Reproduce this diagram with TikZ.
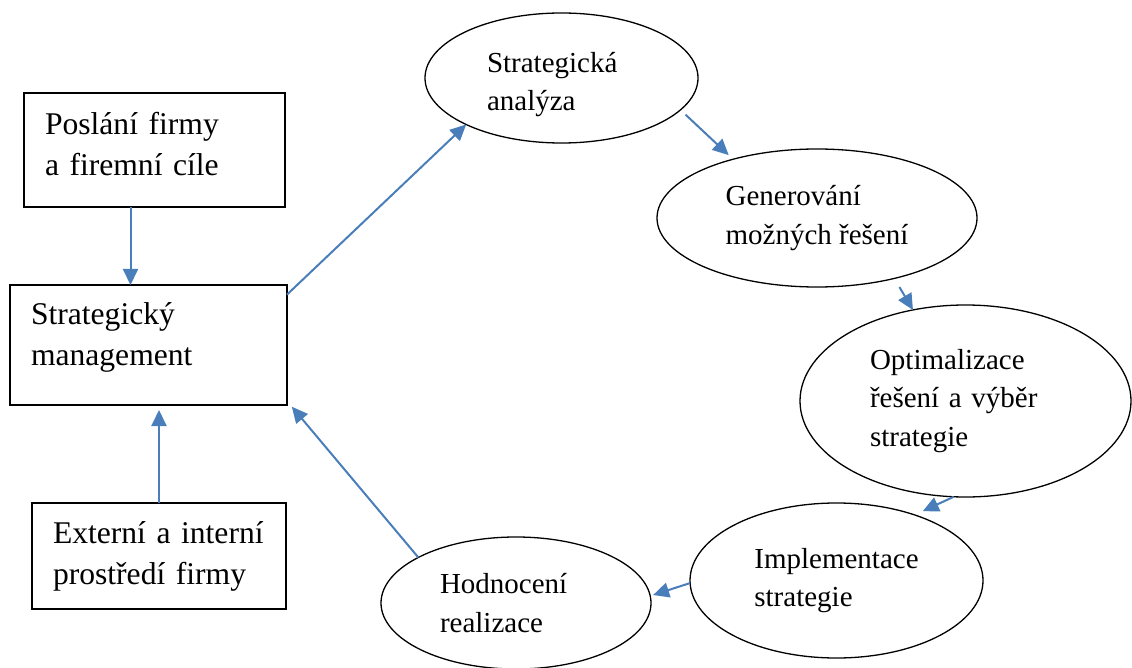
\documentclass[tikz,border=0pt]{standalone}
\usepackage{fontspec}
\setmainfont{Liberation Serif}
\usetikzlibrary{shapes.geometric, arrows.meta}
\definecolor{arrblue}{HTML}{4A7EBB}

\begin{document}
\begin{tikzpicture}[x=1pt, y=-1pt,
    box/.style={draw, line width=1.3pt, rectangle, inner sep=0pt, outer sep=0pt, align=left, font=\fontsize{31.6}{41}\selectfont},
    oval/.style={draw, line width=1.3pt, ellipse, inner sep=0pt, outer sep=0pt, align=left, font=\fontsize{29}{38.5}\selectfont},
    arr/.style={draw=arrblue, line width=2pt, -{Triangle[length=16pt, width=15pt]}}]

    \useasboundingbox (0,0) rectangle (1132,668);

    % Left column: boxes
    \node[box, minimum width=261pt, minimum height=114pt, text width=219pt, text depth=53pt] (poslani) at (154.5,150) {Poslání firmy\\a firemní cíle};
    \node[box, minimum width=277pt, minimum height=120pt, text width=235pt, text depth=62pt] (mgmt) at (148.5,345) {Strategický\\management};
    \node[box, minimum width=254pt, minimum height=106pt, text width=212pt] (prostredi) at (159,556) {Externí a interní\\prostředí firmy};

    % Cycle: ellipses
    \node[oval, minimum width=273pt, minimum height=130pt, text width=149pt, text height=33pt] (analyza) at (561.5,78) {Strategická\\analýza};
    \node[oval, minimum width=320pt, minimum height=138pt] (generovani) at (817,218) {Generování\\možných řešení};
    \node[oval, minimum width=331pt, minimum height=192pt, text width=191pt] (optimalizace) at (965.5,401) {Optimalizace\\řešení a výběr\\strategie};
    \node[oval, minimum width=293pt, minimum height=155pt] (implementace) at (836.5,580.5) {Implementace\\strategie};
    \node[oval, minimum width=270pt, minimum height=132pt, text width=152pt] (hodnoceni) at (516,603) {Hodnocení\\realizace};

    % Arrows into the management box
    \draw[arr] ([xshift=-24pt]poslani.south) -- ([xshift=-24pt]poslani.south |- mgmt.north);
    \draw[arr] (prostredi.north) -- ([yshift=-5pt]prostredi.north |- mgmt.south);

    % Arrows round the cycle
    \draw[arr] (mgmt.20) -- (analyza.206);
    \draw[arr, shorten <=7pt, shorten >=6pt] (analyza.345) -- (generovani.145);
    \draw[arr, shorten <=10pt] (generovani.322) -- (optimalizace.120);
    \draw[arr, shorten >=9pt] (optimalizace.263) -- (implementace.40);
    \draw[arr, shorten >=3pt] (implementace.181) -- (hodnoceni.3);
    \draw[arr, shorten >=7.5pt] (hodnoceni.155) -- (mgmt.338);

\end{tikzpicture}
\end{document}
